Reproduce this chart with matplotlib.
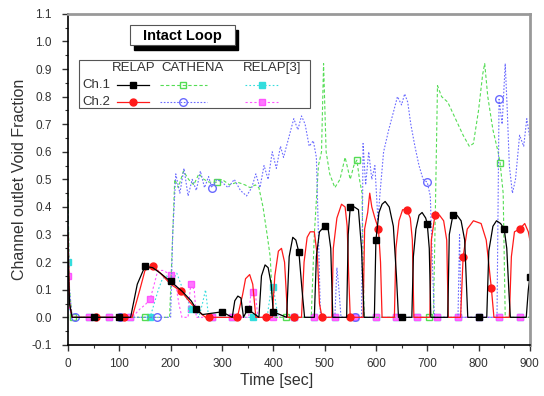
import numpy as np
import matplotlib
matplotlib.use("Agg")
import matplotlib.pyplot as plt
from matplotlib.lines import Line2D
from matplotlib.patches import Rectangle
from matplotlib.ticker import MultipleLocator, FormatStrFormatter

plt.rcParams["font.family"] = ["Liberation Sans", "DejaVu Sans"]

# RELAP, channel 1
relap1_t = [0, 3, 8, 50, 100, 122, 135, 150, 165, 180, 200, 222, 240, 250, 262, 300,
            320, 325, 331, 337, 342, 350, 372, 377, 384, 390, 396, 400, 426, 431, 438,
            444, 450, 456, 461, 480, 484, 490, 500, 507, 512, 516, 543, 546, 550, 558,
            566, 572, 577, 597, 600, 606, 612, 618, 626, 634, 640, 644, 650, 670, 673,
            678, 684, 690, 697, 700, 704, 707, 740, 743, 750, 758, 766, 773, 779, 800,
            816, 820, 828, 835, 843, 850, 855, 859, 862, 893, 897, 900]
relap1_v = [0.22, 0.05, 0.0, 0.0, 0.0, 0.0, 0.12, 0.185, 0.18, 0.16, 0.13, 0.095, 0.06,
            0.03, 0.01, 0.02, 0.0, 0.06, 0.077, 0.07, 0.0, 0.03, 0.0, 0.15, 0.19, 0.18,
            0.12, 0.02, 0.0, 0.22, 0.29, 0.28, 0.235, 0.1, 0.0, 0.0, 0.22, 0.31, 0.33,
            0.32, 0.25, 0.0, 0.0, 0.3, 0.40, 0.40, 0.39, 0.25, 0.0, 0.0, 0.28, 0.38,
            0.41, 0.42, 0.40, 0.33, 0.15, 0.0, 0.0, 0.0, 0.22, 0.32, 0.37, 0.38, 0.36,
            0.34, 0.25, 0.0, 0.0, 0.3, 0.37, 0.37, 0.35, 0.28, 0.0, 0.0, 0.0, 0.24,
            0.33, 0.35, 0.34, 0.32, 0.25, 0.1, 0.0, 0.0, 0.1, 0.145]
relap1_marks = [50, 100, 150, 200, 250, 300, 350, 400, 450, 500, 550, 600, 650, 700,
                750, 800, 850, 900]

# RELAP, channel 2
relap2_t = [0, 3, 8, 55, 110, 125, 140, 150, 165, 180, 200, 220, 240, 255, 268, 275,
            330, 340, 346, 354, 360, 366, 385, 398, 403, 410, 416, 422, 428, 440, 455,
            460, 466, 472, 480, 486, 490, 495, 514, 517, 524, 533, 540, 544, 547, 550,
            575, 578, 584, 588, 592, 598, 605, 609, 612, 636, 639, 645, 652, 660, 667,
            671, 674, 705, 708, 715, 724, 732, 738, 741, 765, 770, 778, 790, 805, 815,
            825, 830, 860, 864, 870, 880, 890, 897, 900]
relap2_v = [0.3, 0.05, 0.0, 0.0, 0.0, 0.0, 0.1, 0.17, 0.185, 0.16, 0.12, 0.095, 0.05,
            0.02, 0.0, 0.0, 0.0, 0.08, 0.14, 0.155, 0.12, 0.0, 0.0, 0.0, 0.15, 0.24,
            0.25, 0.2, 0.0, 0.0, 0.0, 0.2, 0.29, 0.31, 0.31, 0.22, 0.05, 0.0, 0.0,
            0.25, 0.36, 0.41, 0.40, 0.33, 0.15, 0.0, 0.0, 0.32, 0.38, 0.45, 0.40, 0.36,
            0.32, 0.2, 0.0, 0.0, 0.25, 0.35, 0.39, 0.39, 0.36, 0.28, 0.0, 0.0, 0.28,
            0.37, 0.37, 0.35, 0.28, 0.0, 0.0, 0.22, 0.32, 0.35, 0.34, 0.28, 0.105, 0.0,
            0.0, 0.22, 0.31, 0.32, 0.34, 0.31, 0.28]
relap2_marks = [55, 110, 165, 220, 275, 330, 385, 440, 495, 550, 605, 660, 715, 770,
                825, 880]

# CATHENA, channel 1
cath1_t = [0, 3, 8, 10, 150, 198, 203, 208, 215, 225, 235, 245, 255, 265, 275, 290,
           300, 315, 330, 345, 355, 365, 372, 380, 388, 394, 400, 425, 474, 480, 488,
           494, 498, 503, 510, 520, 530, 540, 550, 557, 563, 568, 573, 577, 703, 712,
           716, 720, 728, 740, 755, 770, 782, 790, 800, 808, 812, 818, 828, 838, 842,
           848, 852, 900]
cath1_v = [0.45, 0.1, 0.0, 0.0, 0.0, 0.0, 0.25, 0.5, 0.47, 0.53, 0.5, 0.48, 0.52, 0.5,
           0.49, 0.49, 0.5, 0.48, 0.49, 0.48, 0.47, 0.48, 0.47, 0.4, 0.3, 0.22, 0.0,
           0.0, 0.0, 0.3, 0.55, 0.6, 0.92, 0.6, 0.52, 0.47, 0.5, 0.58, 0.5, 0.55, 0.57,
           0.5, 0.45, 0.0, 0.0, 0.0, 0.4, 0.84, 0.8, 0.78, 0.72, 0.66, 0.62, 0.63,
           0.75, 0.88, 0.92, 0.8, 0.68, 0.6, 0.56, 0.45, 0.0, 0.0]
cath1_marks = [10, 150, 290, 425, 563, 703, 842]

# CATHENA, channel 2
cath2_t = [0, 3, 8, 13, 101, 173, 200, 204, 210, 218, 226, 234, 242, 250, 258, 266,
           274, 280, 290, 300, 312, 324, 336, 348, 358, 366, 374, 382, 390, 398, 406,
           414, 420, 430, 440, 448, 455, 462, 470, 478, 484, 488, 492, 520, 524, 528,
           532, 560, 572, 575, 580, 586, 592, 598, 604, 608, 615, 625, 635, 642, 650,
           656, 662, 668, 676, 684, 692, 700, 706, 710, 714, 760, 763, 766, 836, 840,
           846, 852, 856, 860, 866, 872, 880, 888, 894, 900]
cath2_v = [0.38, 0.1, 0.0, 0.0, 0.0, 0.0, 0.0, 0.3, 0.52, 0.45, 0.54, 0.44, 0.5, 0.46,
           0.53, 0.47, 0.51, 0.47, 0.5, 0.49, 0.47, 0.5, 0.46, 0.44, 0.47, 0.52, 0.47,
           0.55, 0.5, 0.6, 0.54, 0.62, 0.58, 0.65, 0.72, 0.68, 0.73, 0.7, 0.62, 0.64,
           0.58, 0.3, 0.0, 0.0, 0.18, 0.1, 0.0, 0.0, 0.0, 0.63, 0.48, 0.6, 0.5, 0.55,
           0.35, 0.45, 0.6, 0.68, 0.75, 0.8, 0.77, 0.81, 0.78, 0.7, 0.62, 0.55, 0.5,
           0.49, 0.44, 0.2, 0.0, 0.0, 0.3, 0.0, 0.0, 0.79, 0.7, 0.92, 0.75, 0.55, 0.45,
           0.5, 0.66, 0.62, 0.72, 0.65]
cath2_marks = [13, 101, 173, 280, 560, 700, 840]

# RELAP[3], channel 1
ref1_t = [0, 3, 8, 40, 80, 120, 160, 168, 176, 184, 192, 200, 206, 212, 220, 228, 236,
          240, 248, 255, 262, 268, 274, 280, 320, 360, 388, 394, 400, 405, 410, 440,
          480, 520, 560, 600, 640, 680, 720, 760, 800, 840, 880, 900]
ref1_v = [0.2, 0.03, 0.0, 0.0, 0.0, 0.0, 0.0, 0.05, 0.1, 0.14, 0.15, 0.135, 0.14, 0.16,
          0.12, 0.08, 0.05, 0.03, 0.03, 0.0, 0.05, 0.1, 0.0, 0.0, 0.0, 0.0, 0.0, 0.08,
          0.11, 0.05, 0.0, 0.0, 0.0, 0.0, 0.0, 0.0, 0.0, 0.0, 0.0, 0.0, 0.0, 0.0, 0.0,
          0.0]
ref1_marks = list(range(0, 901, 40))

# RELAP[3], channel 2
ref2_t = [0, 3, 8, 40, 80, 120, 130, 140, 150, 160, 168, 175, 185, 195, 200, 210, 216,
          222, 234, 238, 240, 246, 250, 280, 320, 352, 356, 360, 366, 370, 400, 440,
          480, 520, 560, 600, 640, 680, 720, 760, 800, 840, 880, 900]
ref2_v = [0.15, 0.03, 0.0, 0.0, 0.0, 0.0, 0.01, 0.03, 0.045, 0.065, 0.12, 0.17, 0.17,
          0.16, 0.155, 0.12, 0.05, 0.0, 0.0, 0.1, 0.12, 0.1, 0.0, 0.0, 0.0, 0.0, 0.08,
          0.09, 0.07, 0.0, 0.0, 0.0, 0.0, 0.0, 0.0, 0.0, 0.0, 0.0, 0.0, 0.0, 0.0, 0.0,
          0.0, 0.0]
ref2_marks = list(range(0, 901, 40))

STYLES = {
    "relap1": dict(color="black", ls="-", lw=0.9, marker="s", ms=4.5, mfc="black", mec="black"),
    "relap2": dict(color="#ff1a1a", ls="-", lw=0.9, marker="o", ms=5, mfc="#ff1a1a", mec="#ff1a1a"),
    "cath1": dict(color="#55dd55", ls=(0, (3, 2)), lw=0.8, marker="s", ms=4.5, mfc="none", mec="#55dd55"),
    "cath2": dict(color="#6a6aff", ls=(0, (1.5, 1.5)), lw=0.8, marker="o", ms=5.5, mfc="none", mec="#6a6aff"),
    "ref1": dict(color="#33dddd", ls=(0, (1.5, 2)), lw=0.8, marker="s", ms=4, mfc="#33dddd", mec="#33dddd"),
    "ref2": dict(color="#ff55ff", ls=(0, (2, 2)), lw=0.8, marker="s", ms=4, mfc="#ff77ff", mec="#ff55ff"),
}
TEXT_GREY = "#333333"


def draw(ax, t, v, marks, style, z):
    t = np.asarray(t, dtype=float)
    v = np.asarray(v, dtype=float)
    assert len(t) == len(v)
    every = np.flatnonzero(np.isin(t, marks))
    ax.plot(t, v, markevery=list(every), zorder=z, **style)


fig = plt.figure(figsize=(5.44, 3.96), dpi=100)
ax = fig.add_axes([0.125, 0.129, 0.849, 0.836])

draw(ax, ref1_t, ref1_v, ref1_marks, STYLES["ref1"], 2)
draw(ax, ref2_t, ref2_v, ref2_marks, STYLES["ref2"], 2.1)
draw(ax, cath1_t, cath1_v, cath1_marks, STYLES["cath1"], 2.2)
draw(ax, cath2_t, cath2_v, cath2_marks, STYLES["cath2"], 2.3)
draw(ax, relap2_t, relap2_v, relap2_marks, STYLES["relap2"], 2.4)
draw(ax, relap1_t, relap1_v, relap1_marks, STYLES["relap1"], 2.5)

ax.set_xlim(0, 900)
ax.set_ylim(-0.1, 1.1)
ax.xaxis.set_major_locator(MultipleLocator(100))
ax.xaxis.set_minor_locator(MultipleLocator(50))
ax.yaxis.set_major_locator(MultipleLocator(0.1))
ax.yaxis.set_minor_locator(MultipleLocator(0.05))
ax.yaxis.set_major_formatter(FormatStrFormatter("%.1f"))
ax.tick_params(which="both", direction="out", colors=TEXT_GREY, labelsize=8.5)
ax.tick_params(which="major", length=4.5, width=1)
ax.tick_params(which="minor", length=2.5, width=0.8)
ax.tick_params(axis="y", which="major", pad=7)
ax.tick_params(axis="x", which="major", pad=5)
ax.tick_params(top=False, right=False)
for side in ("top", "right"):
    ax.spines[side].set_color("#999999")
    ax.spines[side].set_linewidth(2)
for side in ("left", "bottom"):
    ax.spines[side].set_color("black")
    ax.spines[side].set_linewidth(1.2)

ax.set_xlabel("Time [sec]", fontsize=11.5, color=TEXT_GREY, labelpad=0)
ax.xaxis.set_label_coords(0.452, -0.085)
ax.set_ylabel("Channel outlet Void Fraction", fontsize=11.5, color=TEXT_GREY, labelpad=3)

# title box with drop shadow
tr = ax.transAxes
ax.add_patch(Rectangle((0.142, 0.892), 0.227, 0.06, transform=tr, facecolor="black",
                       edgecolor="black", zorder=5, clip_on=False))
ax.add_patch(Rectangle((0.134, 0.905), 0.227, 0.06, transform=tr, facecolor="white",
                       edgecolor="#555555", lw=0.8, zorder=6, clip_on=False))
ax.text(0.2475, 0.934, "Intact Loop", transform=tr, ha="center", va="center",
        fontsize=10.5, fontweight="bold", zorder=7)

# legend table
ax.add_patch(Rectangle((0.024, 0.716), 0.5, 0.145, transform=tr, facecolor="white",
                       edgecolor="#555555", lw=0.8, zorder=5))
head_y = 0.835
ax.text(0.095, head_y, "RELAP", transform=tr, ha="left", va="center", fontsize=9.5,
        color=TEXT_GREY, zorder=6)
ax.text(0.203, head_y, "CATHENA", transform=tr, ha="left", va="center", fontsize=9.5,
        color=TEXT_GREY, zorder=6)
ax.text(0.379, head_y, "RELAP[3]", transform=tr, ha="left", va="center", fontsize=9.5,
        color=TEXT_GREY, zorder=6)
rows = [("Ch.1", 0.786, ["relap1", "cath1", "ref1"]),
        ("Ch.2", 0.735, ["relap2", "cath2", "ref2"])]
cols = [(0.107, 0.175), (0.2, 0.3), (0.383, 0.455)]
for label, y, keys in rows:
    ax.text(0.031, y, label, transform=tr, ha="left", va="center", fontsize=9.5,
            color=TEXT_GREY, zorder=6)
    for (x0, x1), key in zip(cols, keys):
        st = dict(STYLES[key])
        ax.add_line(Line2D([x0, (x0 + x1) / 2, x1], [y, y, y], transform=tr,
                           markevery=[1], zorder=6, **st))

fig.savefig("out.png", dpi=100)
